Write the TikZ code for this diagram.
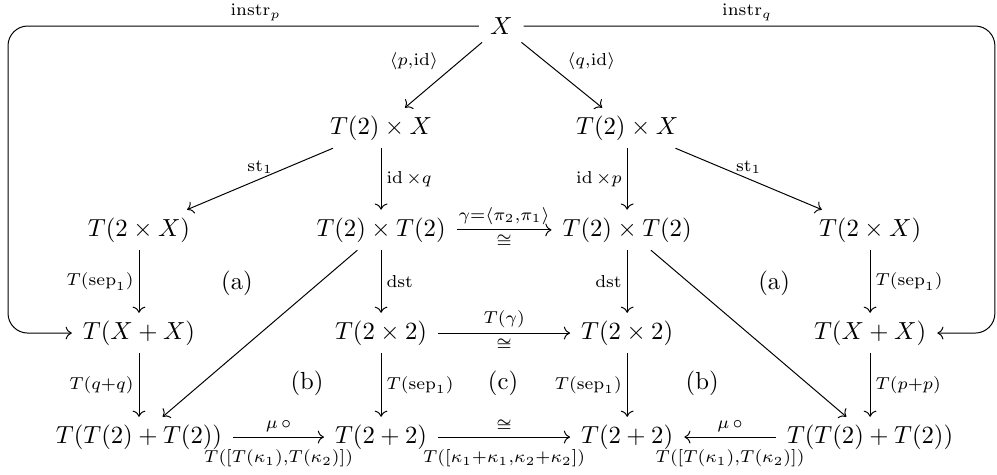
\documentclass[tikz,border=0pt]{standalone}
\usepackage{amsmath}
\usepackage{amssymb}
\usetikzlibrary{arrows.meta}

\begin{document}
\begin{tikzpicture}[>={Computer Modern Rightarrow},
    obj/.style={inner xsep=1ex, inner ysep=3pt},
    lbl/.style={inner sep=2pt, execute at begin node=$\scriptstyle, execute at end node=$},
    cell/.style={font=\normalsize}]
\useasboundingbox (0,0) rectangle (14.18,-6.742);

% objects
\node[obj] (x) at (7.13,-0.37) {$X$};
\node[obj] (tx1) at (5.42,-1.82) {$T(2)\times X$};
\node[obj] (tx2) at (8.92,-1.82) {$T(2)\times X$};
\node[obj] (t2x1) at (1.977,-3.27) {$T(2\times X)$};
\node[obj] (tt1) at (5.42,-3.27) {$T(2)\times T(2)$};
\node[obj] (tt2) at (8.92,-3.27) {$T(2)\times T(2)$};
\node[obj] (t2x2) at (12.375,-3.27) {$T(2\times X)$};
\node[obj] (txx1) at (1.977,-4.737) {$T(X+X)$};
\node[obj] (t22a) at (5.42,-4.737) {$T(2\times 2)$};
\node[obj] (t22b) at (8.92,-4.737) {$T(2\times 2)$};
\node[obj] (txx2) at (12.375,-4.737) {$T(X+X)$};
\node[obj] (ttt1) at (1.977,-6.216) {$T(T(2)+T(2))$};
\node[obj] (tp1) at (5.42,-6.216) {$T(2+2)$};
\node[obj] (tp2) at (8.92,-6.216) {$T(2+2)$};
\node[obj] (ttt2) at (12.375,-6.216) {$T(T(2)+T(2))$};

% region tags
\node[cell] (pa1) at (3.37,-4.026) {(a)};
\node[cell] (pa2) at (11.01,-4.026) {(a)};
\node[cell] (pb1) at (4.367,-5.448) {(b)};
\node[cell] (pc) at (7.155,-5.448) {(c)};
\node[cell] (pb2) at (9.986,-5.448) {(b)};

% loop corners
\coordinate (lc) at (0.114,-4.737);
\coordinate (rc) at (14.15,-4.737);

\draw[->, rounded corners=8pt] (x.west) -| node[lbl, pos=0.237, above] {\mathrm{instr}_p} (lc) -- (txx1.west);
\draw[->, rounded corners=8pt] (x.east) -| node[lbl, pos=0.237, above] {\mathrm{instr}_q} (rc) -- (txx2.east);

\draw[->] (x) -- node[lbl, above left] {\langle p,\mathrm{id}\rangle} (tx1);
\draw[->] (x) -- node[lbl, above right] {\langle q,\mathrm{id}\rangle} (tx2);
\draw[->] (tx1) -- node[lbl, above] {\mathrm{st}_1} (t2x1);
\draw[->] (tx1) -- node[lbl, right] {\operatorname{id}\times q} (tt1);
\draw[->] (tx2) -- node[lbl, left] {\operatorname{id}\times p} (tt2);
\draw[->] (tx2) -- node[lbl, above] {\mathrm{st}_1} (t2x2);
\draw[->] (tt1) -- node[lbl, above] {\gamma=\langle\pi_2,\pi_1\rangle} node[lbl, below] {\cong} (tt2);
\draw[->] (t2x1) -- node[lbl, left] {T(\mathrm{sep}_1)} (txx1);
\draw[->] (tt1) -- node[lbl, right] {\mathrm{dst}} (t22a);
\draw[->] (tt2) -- node[lbl, left] {\mathrm{dst}} (t22b);
\draw[->] (t2x2) -- node[lbl, right] {T(\mathrm{sep}_1)} (txx2);
\draw[->] (tt1) -- (ttt1);
\draw[->] (tt2) -- (ttt2);
\draw[->] (t22a) -- node[lbl, above] {T(\gamma)} node[lbl, below] {\cong} (t22b);
\draw[->] (txx1) -- node[lbl, left] {T(q+q)} (ttt1);
\draw[->] (t22a) -- node[lbl, right] {T(\mathrm{sep}_1)} (tp1);
\draw[->] (t22b) -- node[lbl, left] {T(\mathrm{sep}_1)} (tp2);
\draw[->] (txx2) -- node[lbl, right] {T(p+p)} (ttt2);
\draw[->] (ttt1) -- node[lbl, above] {\mu\,\circ} node[lbl, below=3pt] {T([T(\kappa_1),T(\kappa_2)])} (tp1);
\draw[->] (tp1) -- node[lbl, above] {\cong} node[lbl, below=3pt] {T([\kappa_1+\kappa_1,\kappa_2+\kappa_2])} (tp2);
\draw[->] (ttt2) -- node[lbl, above] {\mu\,\circ} node[lbl, below=3pt] {T([T(\kappa_1),T(\kappa_2)])} (tp2);
\end{tikzpicture}
\end{document}
